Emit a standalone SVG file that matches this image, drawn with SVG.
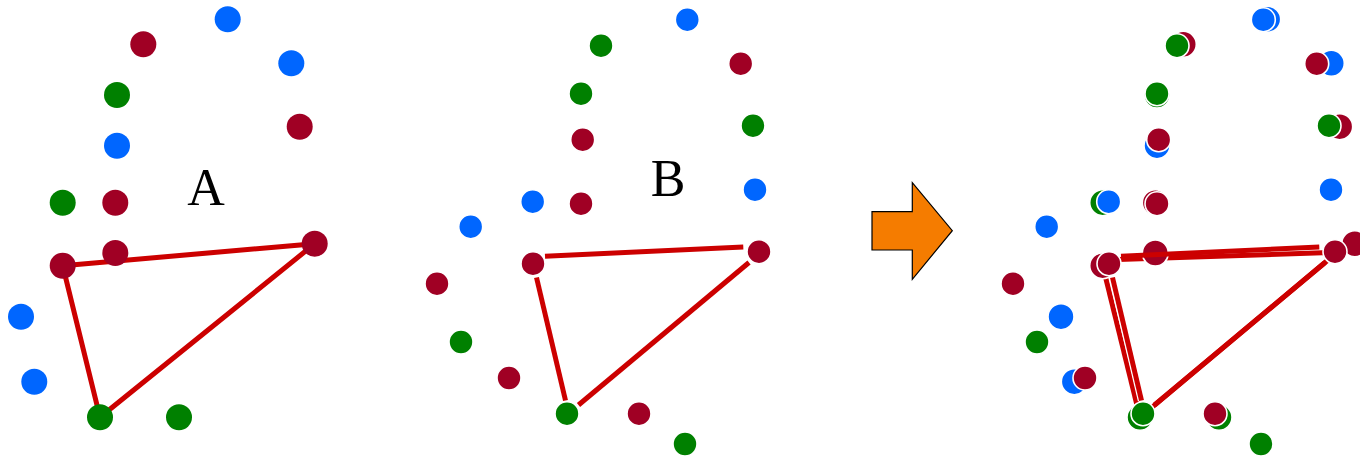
<svg xmlns="http://www.w3.org/2000/svg" width="1360" height="456" viewBox="0 0 1360 456">
<style>
.b{fill:#0066ff}.g{fill:#008000}.r{fill:#a00024}
.ws{stroke:#fff;stroke-width:1.6}
.edge{stroke:#cc0000;stroke-width:5;fill:none}
.casing{stroke:#fff;stroke-width:7.5;fill:none}
.lbl{font-family:"Liberation Serif","Times New Roman",serif;font-size:52px;fill:#000;text-anchor:middle;stroke:none}
</style>
<defs>
<g id="ptsA">
<circle class="b" cx="227.7" cy="19.3" r="13"/>
<circle class="r" cx="143.3" cy="44.3" r="13"/>
<circle class="b" cx="291.3" cy="63.3" r="13"/>
<circle class="g" cx="117" cy="95" r="13"/>
<circle class="r" cx="299.7" cy="126.7" r="13"/>
<circle class="b" cx="117" cy="145.7" r="13"/>
<circle class="g" cx="62.7" cy="202.7" r="13"/>
<circle class="r" cx="115.3" cy="202.7" r="13"/>
<circle class="r" cx="62.7" cy="265.7" r="13"/>
<circle class="r" cx="115.3" cy="253" r="13"/>
<circle class="r" cx="314.7" cy="243.7" r="13"/>
<circle class="b" cx="21" cy="316.7" r="13"/>
<circle class="b" cx="34.3" cy="381.7" r="13"/>
<circle class="g" cx="100" cy="417.3" r="13"/>
<circle class="g" cx="179" cy="417.3" r="13"/>
</g>
<g id="ptsB">
<circle class="b" cx="687.3" cy="19.7" r="12"/>
<circle class="g" cx="601" cy="45.7" r="12"/>
<circle class="r" cx="740.7" cy="63.7" r="12"/>
<circle class="g" cx="581" cy="93.7" r="12"/>
<circle class="g" cx="753" cy="125.7" r="12"/>
<circle class="r" cx="582.7" cy="139.7" r="12"/>
<circle class="b" cx="755" cy="189.7" r="12"/>
<circle class="b" cx="532.7" cy="201.7" r="12"/>
<circle class="r" cx="581" cy="203.7" r="12"/>
<circle class="b" cx="470.7" cy="226.7" r="12"/>
<circle class="r" cx="533" cy="263.7" r="12"/>
<circle class="r" cx="759" cy="251.7" r="12"/>
<circle class="r" cx="437" cy="283.7" r="12"/>
<circle class="g" cx="461" cy="342" r="12"/>
<circle class="r" cx="509" cy="378" r="12"/>
<circle class="g" cx="567" cy="413.7" r="12"/>
<circle class="r" cx="639" cy="413.7" r="12"/>
<circle class="g" cx="685" cy="444" r="12"/>
</g>
<polygon id="triA" points="62.7,265.7 314.7,243.7 100,417.3"/>
<path id="bTop" d="M545,256.2 L743.3,247"/>
<path id="bLeft" d="M536.5,277.5 L565.5,400.5"/>
<path id="bDiag" d="M578.5,405 L749,262.5"/>
</defs>

<g id="connectors">
<g id="edges-A"><use href="#triA" class="edge"/></g>
<g id="edges-B">
<use href="#bTop" class="casing"/><use href="#bLeft" class="casing"/><use href="#bDiag" class="casing"/>
<use href="#bTop" class="edge"/><use href="#bLeft" class="edge"/><use href="#bDiag" class="edge"/>
</g>
<g id="edges-C-A">
<path class="edge" d="M1102.7,260 L1330,252.5"/>
<path class="edge" d="M1102.7,265.7 L1140,417.3"/>
<path class="edge" d="M1140,417.3 L1331,257.5"/>
</g>
</g>

<g id="panel-A">
<use href="#ptsA"/>
<text class="lbl" x="206" y="205">A</text>
</g>

<g id="panel-B">
<use href="#ptsB" class="ws"/>
<text class="lbl" x="668" y="196">B</text>
</g>

<g id="arrow">
<polygon points="872,211.7 912.3,211.7 912.3,182.7 952.3,230.7 912.3,279.3 912.3,250 872,250" fill="#f57c00" stroke="#000" stroke-width="1.2"/>
</g>

<g id="panel-C">
<use href="#ptsA" class="ws" transform="translate(1040,0)"/>
<g id="edges-C-B" transform="translate(576,0)">
<use href="#bLeft" class="casing"/>
<use href="#bTop" class="edge"/><use href="#bLeft" class="edge"/><use href="#bDiag" class="edge"/>
</g>
<use href="#ptsB" class="ws" transform="translate(576,0)"/>
</g>
</svg>
